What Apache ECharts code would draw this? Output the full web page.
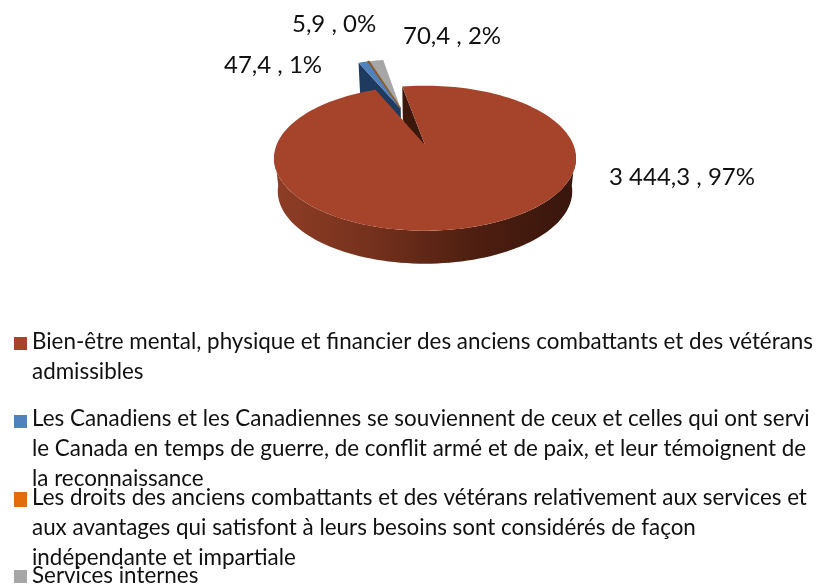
<!DOCTYPE html>
<html><head><meta charset="utf-8">
<style>html,body{margin:0;padding:0;background:#fff}#c{width:820px;height:585px}</style>
<script src="https://cdn.jsdelivr.net/npm/echarts@6/dist/echarts.min.js"></script>
</head><body><div id="c"></div>
<script>
const categories = [
  "Bien-être mental, physique et financier des anciens combattants et des vétérans admissibles",
  "Les Canadiens et les Canadiennes se souviennent de ceux et celles qui ont servi le Canada en temps de guerre, de conflit armé et de paix, et leur témoignent de la reconnaissance",
  "Les droits des anciens combattants et des vétérans relativement aux services et aux avantages qui satisfont à leurs besoins sont considérés de façon indépendante et impartiale",
  "Services internes"
];
const values = [3444.3, 47.4, 5.9, 70.4];
const valueLabels = ["3 444,3", "47,4", "5,9", "70,4"];
const legendLines = [
  ["Bien-être mental, physique et financier des anciens combattants et des vétérans", "admissibles"],
  ["Les Canadiens et les Canadiennes se souviennent de ceux et celles qui ont servi", "le Canada en temps de guerre, de conflit armé et de paix, et leur témoignent de", "la reconnaissance"],
  ["Les droits des anciens combattants et des vétérans relativement aux services et", "aux avantages qui satisfont à leurs besoins sont considérés de façon", "indépendante et impartiale"],
  ["Services internes"]
];
const topColors = ["#a5442a", "#4f81bd", "#e46c0a", "#a6a6a6"];
const wallColors = ["#3c170c", "#1f3a5f", "#7a3c08", "#6b6b6b"];

// layout of the tilted pie
const APEX = {x: 425, y: 145}, RX = 148.5, RY = 70.1, K = 0.182, DEPTH = 33, SHRINK = 0.975;
const FIRST_ANGLE = -10.4, EXPLODE = 0.6, EXPLODE_DIR = -17.5;
const LABEL_POS = [[609,177],[224,65],[292,24],[403,36]];
const LEGEND_TOP = [327,404,483,561];
const SWATCH_OFFSET = [10,11,9,9], SWATCH_SIZE = [13,13,15,13];
const LINE_H = 30, FONT = 'Lato, sans-serif', LEGEND_SIZE = 22.4, LABEL_SIZE = 24;

const total = values.reduce((a,b)=>a+b,0);
const rad = d => d*Math.PI/180;
function proj(u,v){const w=1+K*v;return [APEX.x+RX*u/w, APEX.y-RY*v/w];}
function lower(p){return [APEX.x+(p[0]-APEX.x)*SHRINK, p[1]+DEPTH];}
function sliceRange(i){
  let s=FIRST_ANGLE; for(let j=0;j<i;j++) s+=values[j]/total*360;
  return [s, s+values[i]/total*360];
}
function renderSlice(params, api){
  const i = params.seriesIndex, val = api.value(0);
  const [a0,a1] = sliceRange(i);
  let ou=0, ov=0;
  if(i>0){ou=EXPLODE*Math.sin(rad(EXPLODE_DIR)); ov=EXPLODE*Math.cos(rad(EXPLODE_DIR));}
  const P = th => proj(ou+Math.sin(rad(th)), ov+Math.cos(rad(th)));
  const apex = proj(ou,ov);
  const arc=[]; const n=Math.max(2,Math.ceil((a1-a0)/2));
  for(let t=0;t<=n;t++) arc.push(P(a0+(a1-a0)*t/n));
  const children=[];
  const z0 = i===0 ? 10 : 1+i;
  if(i===0){
    const start=P(a0);
    children.push({type:'polygon',z2:1,silent:true,shape:{points:[start,lower(start),lower(apex),apex]},style:{fill:wallColors[0]}});
    const top=[],bot=[];
    for(let t=96;t<=264;t+=2){const p=P(t);top.push(p);bot.push(lower(p));}
    children.push({type:'polygon',z2:9,shape:{points:top.concat(bot.reverse())},
      style:{fill:new echarts.graphic.LinearGradient(1,0,0,0,[
        {offset:0,color:'#38150b'},{offset:.35,color:'#4f1f11'},{offset:.65,color:'#72301c'},{offset:1,color:'#8f3d25'}])}});
  } else if(i===1){
    const end=P(a0);
    children.push({type:'polygon',z2:2,shape:{points:[end,lower(end),lower(apex),apex]},style:{fill:wallColors[1]}});
  }
  const topShape={type:'polygon',z2:z0,shape:{points:[apex].concat(arc)},style:{fill:topColors[i]}};
  if(i===2){topShape.style.stroke='#8a5a2a';topShape.style.lineWidth=1.2;topShape.z2=6;}
  children.push(topShape);
  children.push({type:'text',z2:20,style:{
    text:valueLabels[i]+' , '+Math.round(val/total*100)+'%',
    x:LABEL_POS[i][0],y:LABEL_POS[i][1],fill:'#111',font:LABEL_SIZE+'px '+FONT,verticalAlign:'middle',align:'left'}});
  return {type:'group',children};
}
const series = categories.map((name,i)=>({
  type:'custom',name,coordinateSystem:'none',animation:false,
  itemStyle:{color:topColors[i]},
  data:[[values[i]]],renderItem:renderSlice,emphasis:{disabled:true}
}));
const legends = categories.map((name,i)=>{
  const h=legendLines[i].length*LINE_H, a=SWATCH_OFFSET[i], b=a+SWATCH_SIZE[i];
  return {
    show:true,orient:'vertical',left:14,top:LEGEND_TOP[i],padding:0,data:[name],
    itemWidth:13,itemHeight:h,itemGap:0,selectedMode:false,
    icon:'path://M0 '+a+'H13V'+b+'H0ZM13 0V0ZM13 '+h+'V'+h+'Z',
    itemStyle:{color:topColors[i]},
    formatter:()=>legendLines[i].join('\n'),
    textStyle:{fontFamily:FONT,fontSize:LEGEND_SIZE,lineHeight:LINE_H,color:'#111',padding:[0,0,0,0]}
  };
});
const chart = echarts.init(document.getElementById('c'),null,{renderer:'canvas'});
chart.setOption({backgroundColor:'#fff',animation:false,tooltip:{show:false},legend:legends,series});
</script></body></html>
